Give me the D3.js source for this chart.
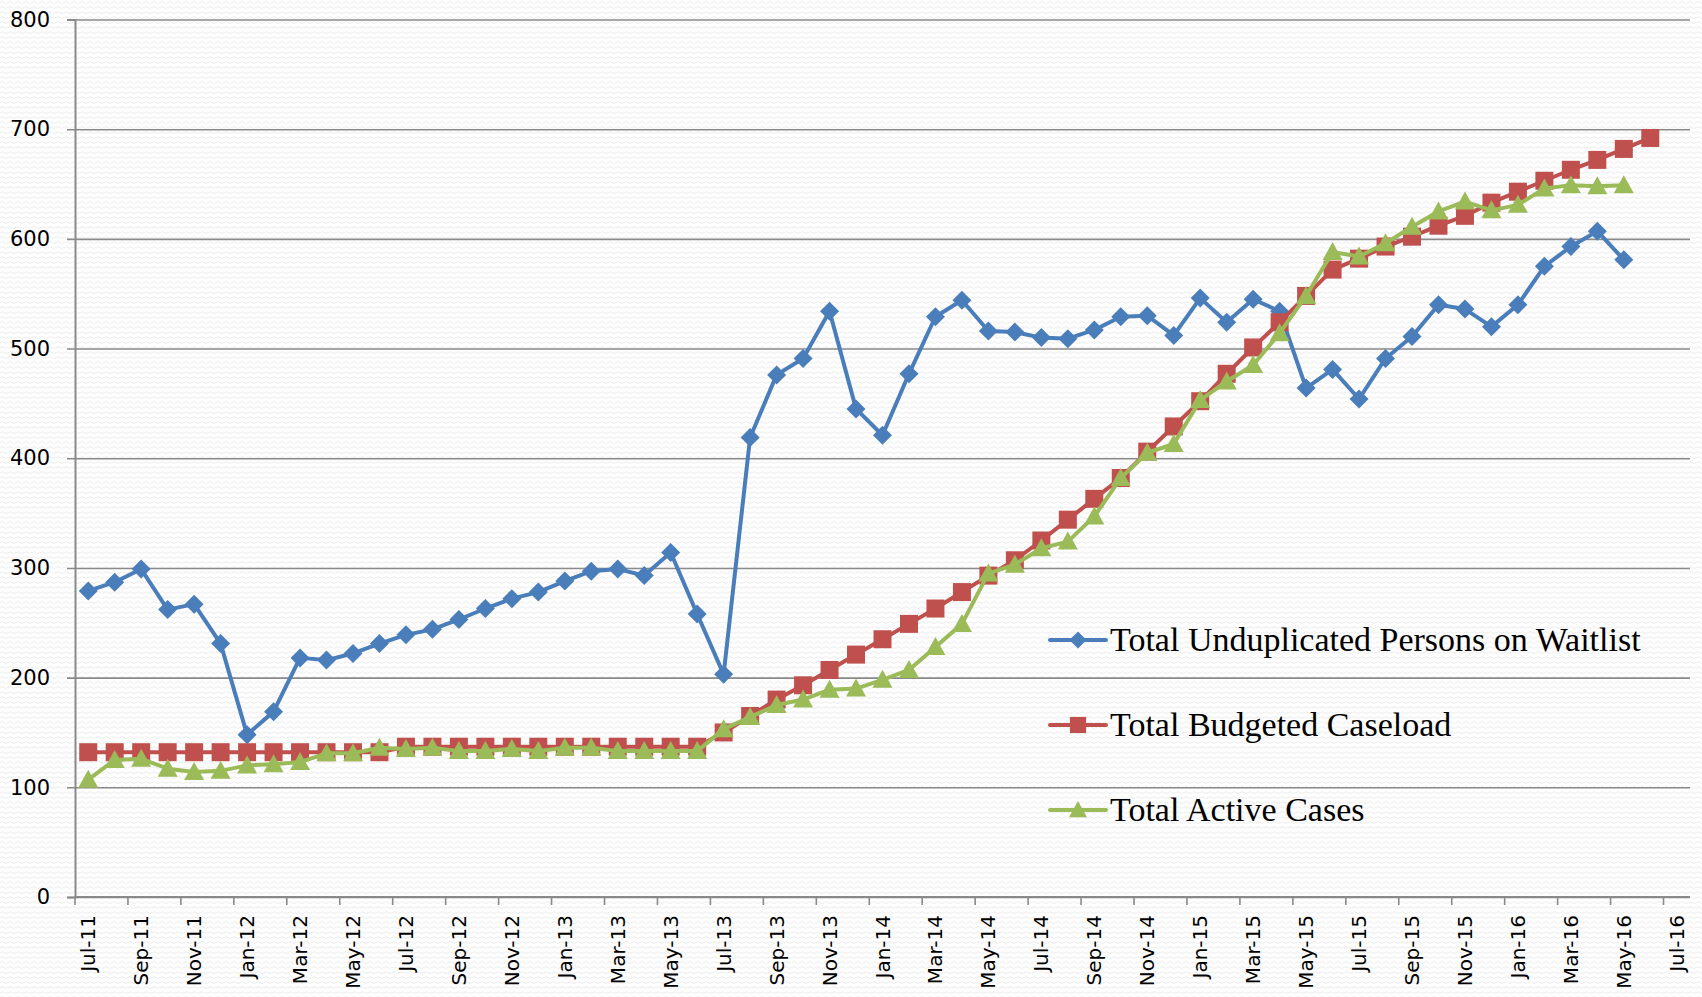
<!DOCTYPE html>
<html>
<head>
<meta charset="utf-8">
<script src="https://cdn.jsdelivr.net/npm/d3@7"></script>
<style>
  html, body { margin: 0; padding: 0; background: #fff; }
  svg { display: block; }
</style>
</head>
<body>
<div id="chart-area"></div>
<script>
const WIDTH = 1702,
    HEIGHT = 997,
    MARGIN = {top: 19.5, right: 12, bottom: 100, left: 75},
    COLOR_WAIT = '#4a7ebb',
    COLOR_BUDGET = '#c0504d',
    COLOR_ACTIVE = '#9bbb59',
    COLOR_GRID = '#8a8a8a',
    LINE_WIDTH = 4;

// months Jul-11 .. Jul-16
const months = d3.timeMonths(new Date(2011, 6, 1), new Date(2016, 7, 1));
const fmt = d3.timeFormat('%b-%y');
const categories = months.map(fmt);

const yTicks = [0, 100, 200, 300, 400, 500, 600, 700, 800];

// Total Unduplicated Persons on Waitlist (Jul-11 .. May-16)
const waitlist = [279, 287, 299, 262, 267, 231, 148, 169, 218, 216,
    222, 231, 239, 244, 253, 263, 272, 278, 288, 297,
    299, 293, 314, 258, 203, 419, 476, 491, 534, 445,
    421, 477, 529, 544, 516, 515, 510, 509, 517, 529,
    530, 512, 546, 524, 545, 534, 464, 481, 454, 491,
    511, 540, 536, 520, 540, 575, 593, 607, 581];

// Total Budgeted Caseload (Jul-11 .. Jun-16)
const budgeted = [132, 132, 132, 132, 132, 132, 132, 132, 132, 132, 132, 132,
    137, 137, 137, 137, 137, 137, 137, 137, 137, 137, 137, 137,
    150, 165, 180, 193, 207, 221, 235, 249, 263, 278,
    293, 307, 325, 344, 363, 382, 406, 429, 452, 477,
    501, 524, 548, 572, 582, 593, 602, 612, 621, 633,
    643, 653, 663, 672, 682, 692];

// Total Active Cases (Jul-11 .. May-16)
const active = [107, 125, 126, 117, 114, 115, 120, 121, 123, 131, 131, 136,
    135, 136, 133, 133, 135, 133, 136, 136, 133, 133, 133, 133,
    153, 164, 175, 180, 189, 190, 198, 207, 228, 249,
    295, 303, 318, 324, 347, 382, 405, 413, 453, 470,
    485, 514, 548, 588, 584, 596, 611, 625, 634, 626,
    631, 646, 649, 648, 649];

const series = [
    {name: 'Total Unduplicated Persons on Waitlist', values: waitlist, color: COLOR_WAIT, marker: 'diamond'},
    {name: 'Total Budgeted Caseload', values: budgeted, color: COLOR_BUDGET, marker: 'square'},
    {name: 'Total Active Cases', values: active, color: COLOR_ACTIVE, marker: 'triangle'}
];

const svg = d3.select('#chart-area')
    .append('svg')
    .attr('width', WIDTH)
    .attr('height', HEIGHT);

// faint wavy background texture
const defs = svg.append('defs');
const pat = defs.append('pattern')
    .attr('id', 'wave')
    .attr('width', 8)
    .attr('height', 5)
    .attr('patternUnits', 'userSpaceOnUse');
pat.append('rect').attr('width', 8).attr('height', 5).attr('fill', '#fff');
pat.append('path')
    .attr('d', 'M0,3 Q2,0.5 4,2.5 T8,2.5')
    .attr('fill', 'none')
    .attr('stroke', '#ececec')
    .attr('stroke-width', 1);
svg.append('rect').attr('width', WIDTH).attr('height', HEIGHT).attr('fill', 'url(#wave)');

const x = d3.scaleBand()
    .domain(categories)
    .range([MARGIN.left, WIDTH - MARGIN.right]);

const y = d3.scaleLinear()
    .domain([0, 800])
    .range([HEIGHT - MARGIN.bottom, MARGIN.top]);

const cx = i => x(categories[i]) + x.bandwidth() / 2;

// gridlines + y axis
svg.append('g')
    .attr('transform', `translate(${MARGIN.left},0)`)
    .call(d3.axisLeft(y).tickValues(yTicks).tickSize(8).tickPadding(9))
    .call(g => g.select('.domain').attr('stroke', COLOR_GRID).attr('stroke-width', 2))
    .call(g => g.selectAll('.tick line').attr('stroke', COLOR_GRID).attr('stroke-width', 1.6)
        .attr('x2', WIDTH - MARGIN.right - MARGIN.left))
    .call(g => g.selectAll('.tick line').attr('x1', -8))
    .call(g => g.selectAll('.tick text')
        .attr('font-family', 'DejaVu Sans, Verdana, sans-serif')
        .attr('font-size', 21)
        .attr('fill', '#000')
        .attr('x', -25));

// x axis: ticks every two months on category boundaries
const xAxis = svg.append('g')
    .attr('transform', `translate(0,${y(0)})`);
xAxis.append('line')
    .attr('x1', MARGIN.left).attr('x2', WIDTH - MARGIN.right)
    .attr('stroke', COLOR_GRID).attr('stroke-width', 2);
const tickIdx = d3.range(0, categories.length, 2);
xAxis.selectAll('line.tk')
    .data(tickIdx)
    .join('line')
    .attr('class', 'tk')
    .attr('x1', i => x(categories[i])).attr('x2', i => x(categories[i]))
    .attr('y1', 0).attr('y2', 8)
    .attr('stroke', COLOR_GRID).attr('stroke-width', 1.6);
xAxis.selectAll('text')
    .data(tickIdx)
    .join('text')
    .attr('transform', i => `translate(${cx(i)},18) rotate(-90)`)
    .attr('text-anchor', 'end')
    .attr('dy', '0.35em')
    .attr('font-family', 'DejaVu Sans, Verdana, sans-serif')
    .attr('font-size', 20)
    .attr('fill', '#000')
    .text(i => categories[i]);

function markerPath(type) {
    if (type === 'diamond') return 'M0,-9.5L9.5,0L0,9.5L-9.5,0Z';
    if (type === 'square') return 'M-9,-9H9V9H-9Z';
    return 'M0,-10L10,8H-10Z';
}

const line = d3.line()
    .x((d, i) => cx(i))
    .y(d => y(d));

series.forEach(s => {
    const g = svg.append('g');
    g.append('path')
        .datum(s.values)
        .attr('d', line)
        .attr('fill', 'none')
        .attr('stroke', s.color)
        .attr('stroke-width', LINE_WIDTH)
        .attr('stroke-linejoin', 'round');
    g.selectAll('path.m')
        .data(s.values)
        .join('path')
        .attr('class', 'm')
        .attr('d', markerPath(s.marker))
        .attr('transform', (d, i) => `translate(${cx(i)},${y(d)})`)
        .attr('fill', s.color);
});

// legend
const legend = svg.append('g')
    .attr('transform', 'translate(1050,640)');
const item = legend.selectAll('g')
    .data(series)
    .join('g')
    .attr('transform', (d, i) => `translate(0,${i * 85})`);
item.append('line')
    .attr('x1', 0).attr('x2', 56)
    .attr('stroke', d => d.color)
    .attr('stroke-width', LINE_WIDTH)
    .attr('stroke-linecap', 'round');
item.append('path')
    .attr('d', d => markerPath(d.marker))
    .attr('transform', 'translate(28,0) scale(0.9)')
    .attr('fill', d => d.color);
item.append('text')
    .attr('x', 60)
    .attr('y', 11)
    .attr('font-family', 'Liberation Serif, serif')
    .attr('font-size', 34)
    .attr('fill', '#000')
    .text(d => d.name);
</script>
</body>
</html>
